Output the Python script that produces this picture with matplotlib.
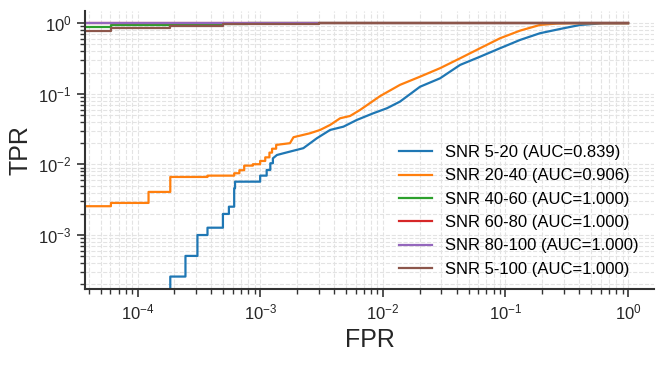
import numpy as np
import matplotlib
matplotlib.use("Agg")
import matplotlib.pyplot as plt

# ROC points (step vertices)
fpr_5_20 = [0, 1.85e-4, 1.85e-4, 2.46e-4, 2.46e-4, 3.08e-4, 3.08e-4, 3.72e-4, 3.72e-4,
            4.97e-4, 4.97e-4, 5.56e-4, 5.56e-4, 6.14e-4, 6.14e-4, 6.24e-4, 6.24e-4,
            1.0e-3, 1.0e-3, 1.13e-3, 1.13e-3, 1.21e-3, 1.21e-3, 1.27e-3, 1.27e-3, 1.37e-3,
            1.55e-3, 2.25e-3, 2.90e-3, 3.72e-3, 4.78e-3, 6.14e-3, 8.37e-3, 1.08e-2, 1.38e-2,
            2.01e-2, 2.93e-2, 4.27e-2, 6.21e-2, 9.04e-2, 0.1315, 0.191, 0.279, 0.406, 0.624, 1.0]
tpr_5_20 = [0, 0, 2.58e-4, 2.58e-4, 5.06e-4, 5.06e-4, 1.0e-3, 1.0e-3, 1.27e-3,
            1.27e-3, 1.99e-3, 1.99e-3, 2.52e-3, 2.52e-3, 4.6e-3, 4.6e-3, 5.7e-3,
            5.7e-3, 6.94e-3, 6.94e-3, 8.36e-3, 8.36e-3, 1.04e-2, 1.04e-2, 1.22e-2, 1.36e-2,
            1.44e-2, 1.70e-2, 2.35e-2, 3.08e-2, 3.43e-2, 4.27e-2, 5.31e-2, 6.25e-2, 7.76e-2,
            0.126, 0.166, 0.257, 0.336, 0.443, 0.580, 0.722, 0.830, 0.946, 1.0, 1.0]

fpr_20_40 = [0, 0, 6.07e-5, 6.07e-5, 1.23e-4, 1.23e-4, 1.85e-4, 1.85e-4, 3.72e-4, 3.72e-4,
             6.14e-4, 6.14e-4, 6.77e-4, 6.77e-4, 7.41e-4, 7.41e-4, 8.72e-4, 8.72e-4,
             1.0e-3, 1.0e-3, 1.10e-3, 1.10e-3, 1.19e-3, 1.19e-3, 1.25e-3, 1.25e-3, 1.35e-3,
             1.35e-3, 1.75e-3, 1.87e-3, 2.56e-3, 3.08e-3, 3.72e-3, 4.49e-3, 5.41e-3, 6.53e-3,
             9.51e-3, 1.38e-2, 2.01e-2, 2.93e-2, 4.27e-2, 6.21e-2, 9.04e-2, 0.1315, 0.191,
             0.262, 0.336, 1.0]
tpr_20_40 = [0, 2.56e-3, 2.56e-3, 2.85e-3, 2.85e-3, 4.08e-3, 4.08e-3, 6.65e-3, 6.65e-3, 6.94e-3,
             6.94e-3, 7.5e-3, 7.5e-3, 8.28e-3, 8.28e-3, 9.62e-3, 9.62e-3, 1.007e-2,
             1.007e-2, 1.12e-2, 1.12e-2, 1.26e-2, 1.26e-2, 1.47e-2, 1.47e-2, 1.67e-2, 1.67e-2,
             1.89e-2, 2.0e-2, 2.43e-2, 2.77e-2, 3.08e-2, 3.63e-2, 4.51e-2, 4.86e-2, 5.92e-2,
             9.3e-2, 0.134, 0.175, 0.231, 0.319, 0.443, 0.613, 0.786, 0.946,
             0.99, 1.0, 1.0]

fpr_40_60 = [0, 0, 6.07e-5, 6.07e-5, 1.85e-4, 1.85e-4, 8.0e-4, 8.0e-4, 1.0]
tpr_40_60 = [0, 0.895, 0.895, 0.937, 0.937, 0.97, 0.97, 1.0, 1.0]

fpr_60_80 = [0, 0, 1.0]
tpr_60_80 = [0, 1.0, 1.0]

fpr_80_100 = [0, 0, 1.0]
tpr_80_100 = [0, 1.0, 1.0]

fpr_5_100 = [0, 0, 6.07e-5, 6.07e-5, 1.85e-4, 1.85e-4, 5.0e-4, 5.0e-4, 8.0e-4, 8.0e-4,
             3.03e-3, 3.03e-3, 1.0]
tpr_5_100 = [0, 0.785, 0.785, 0.858, 0.858, 0.925, 0.925, 0.968, 0.968, 0.99,
             0.99, 1.0, 1.0]

labels = ["SNR 5-20 (AUC=0.839)", "SNR 20-40 (AUC=0.906)", "SNR 40-60 (AUC=1.000)",
          "SNR 60-80 (AUC=1.000)", "SNR 80-100 (AUC=1.000)", "SNR 5-100 (AUC=1.000)"]
curves = [(fpr_5_20, tpr_5_20), (fpr_20_40, tpr_20_40), (fpr_40_60, tpr_40_60),
          (fpr_60_80, tpr_60_80), (fpr_80_100, tpr_80_100), (fpr_5_100, tpr_5_100)]

plt.rcParams['font.family'] = ['Liberation Sans', 'DejaVu Sans']
plt.rcParams['mathtext.default'] = 'regular'

fig, ax = plt.subplots(figsize=(6.66, 3.66), dpi=100)
fig.subplots_adjust(left=0.1276, right=0.982, bottom=0.2104, top=0.971)

for (f, t), lab in zip(curves, labels):
    ax.plot(f, t, linewidth=1.6, label=lab)

ax.set_xscale('log')
ax.set_yscale('log')
ax.set_xlim(3.73e-5, 1.626)
ax.set_ylim(1.72e-4, 1.51)

ax.grid(True, which='both', linestyle='--', color='#e3e3e3', linewidth=0.8)
ax.set_axisbelow(True)
for side in ['top', 'right']:
    ax.spines[side].set_visible(False)
for side in ['left', 'bottom']:
    ax.spines[side].set_color('#333333')
    ax.spines[side].set_linewidth(1.5)
ax.tick_params(which='major', length=6, width=1.2, color='#333333', labelsize=12, labelcolor='#262626')
ax.tick_params(which='minor', length=3.5, width=1.0, color='#333333')

ax.set_xlabel('FPR', fontsize=18, color='#262626')
ax.set_ylabel('TPR', fontsize=18, color='#262626')
ax.legend(loc='lower right', frameon=False, fontsize=12, bbox_to_anchor=(1.0, -0.01))

plt.savefig("out.png", dpi=100)
plt.close()
